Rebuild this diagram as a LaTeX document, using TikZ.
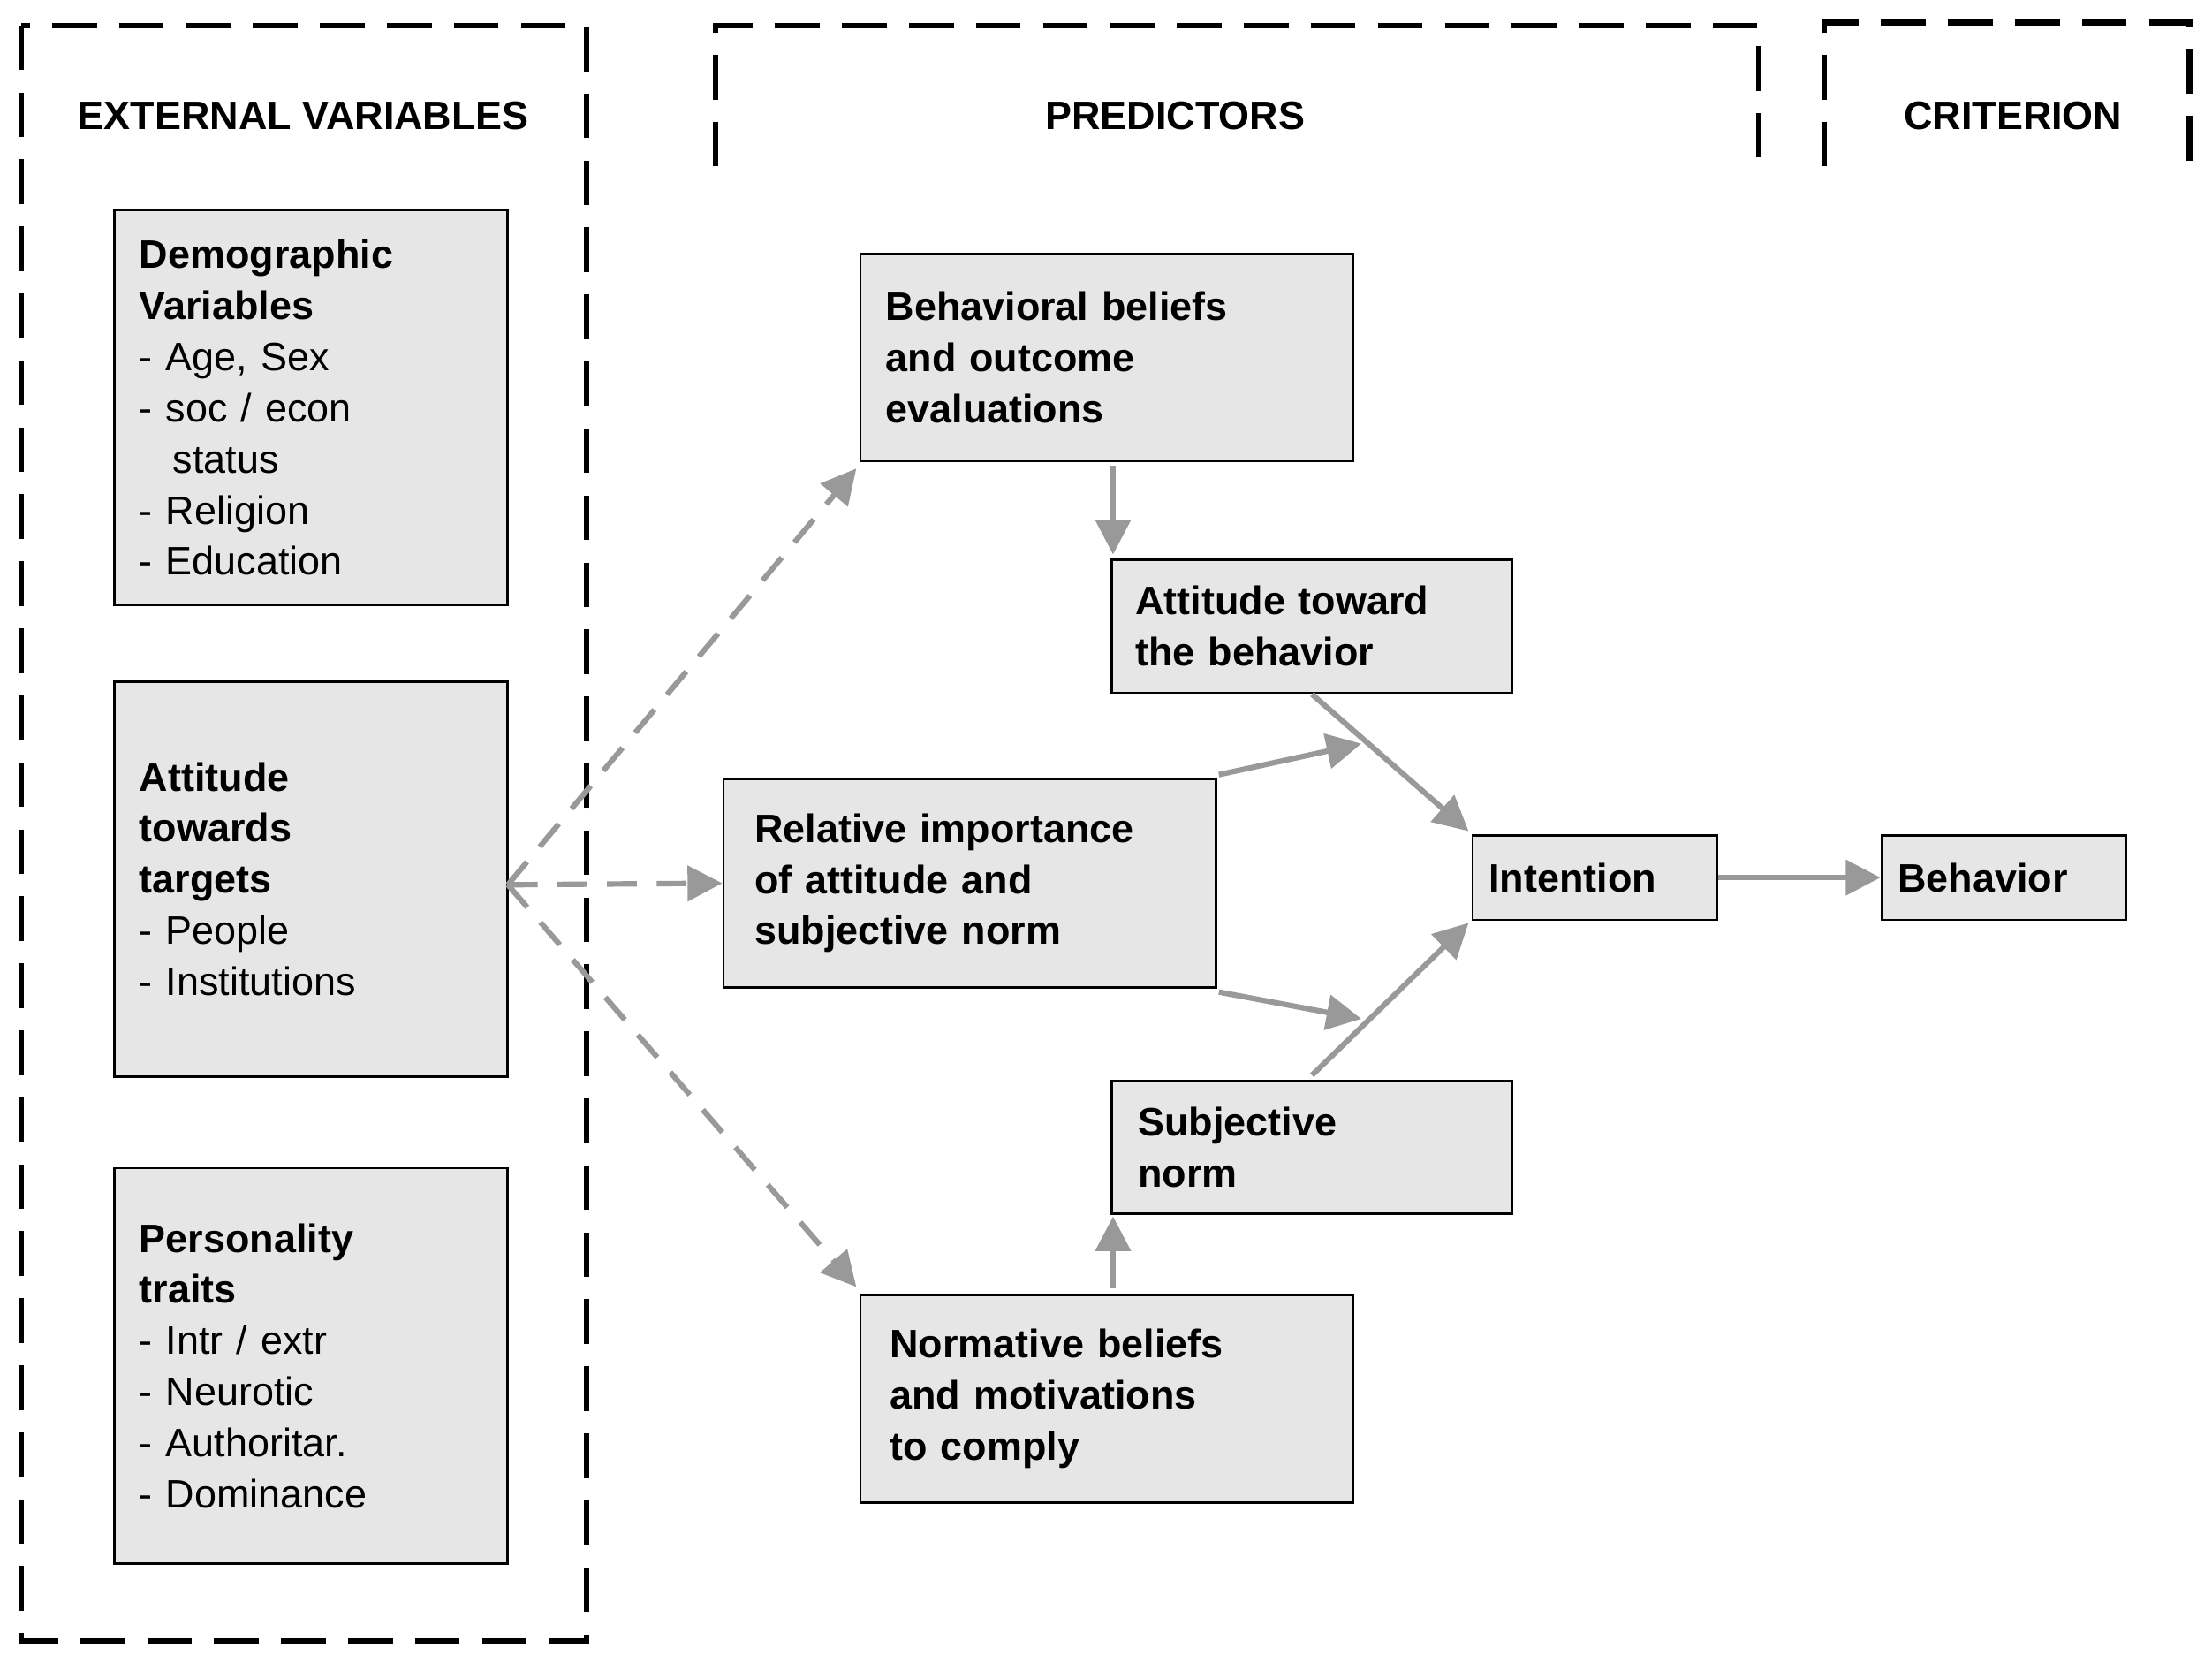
\documentclass[tikz,border=0pt]{standalone}
\usepackage{fontspec}
\setmainfont{Liberation Sans}
\usetikzlibrary{arrows.meta}
\definecolor{boxgray}{HTML}{E6E6E6}
\definecolor{arrgray}{HTML}{999999}
\begin{document}
\begin{tikzpicture}[x=0.01cm,y=-0.01cm,
    font=\fontsize{8}{10.3}\selectfont,
    box/.style={draw, fill=boxgray, line width=0.5pt, rectangle, align=left, anchor=north west, inner sep=0pt},
    frame/.style={line width=1.1pt, dash pattern=on 9pt off 4.5pt},
    head/.style={font=\fontsize{8}{10.3}\selectfont\bfseries},
    flow/.style={arrgray, line width=1.1pt, -{Triangle[length=7pt,width=7pt]}},
    guess/.style={flow, dash pattern=on 6pt off 4pt}]
    \useasboundingbox (0,0) rectangle (1568,1178);
    % frames
    \draw[frame] (15,18) rectangle (416,1163);
    \draw[frame] (507,118) -- (507,18) -- (1247,18) -- (1247,118);
    \draw[frame] (1293,118) -- (1293,16) -- (1552,16) -- (1552,118);
    \node[head] (hext) at (215,82) {EXTERNAL VARIABLES};
    \node[head] (hpred) at (833,82) {PREDICTORS};
    \node[head] (hcrit) at (1427,82) {CRITERION};
    % external variables
    \node[box, minimum width=279*0.01cm, minimum height=280*0.01cm, text width=243*0.01cm] (demo) at (80,148)
        {\textbf{Demographic}\\\textbf{Variables}\\- Age, Sex\\- soc / econ\\\hspace*{1.6ex}status\\- Religion\\- Education};
    \node[box, minimum width=279*0.01cm, minimum height=280*0.01cm, text width=243*0.01cm] (targ) at (80,482)
        {\textbf{Attitude}\\\textbf{towards}\\\textbf{targets}\\- People\\- Institutions};
    \node[box, minimum width=279*0.01cm, minimum height=280*0.01cm, text width=243*0.01cm] (pers) at (80,827)
        {\textbf{Personality}\\\textbf{traits}\\- Intr / extr\\- Neurotic\\- Authoritar.\\- Dominance};
    % predictors
    \node[box, font=\fontsize{8}{10.3}\selectfont\bfseries, minimum width=349*0.01cm, minimum height=147*0.01cm, text width=313*0.01cm] (behb) at (609,179)
        {Behavioral beliefs\\and outcome\\evaluations};
    \node[box, font=\fontsize{8}{10.3}\selectfont\bfseries, minimum width=284*0.01cm, minimum height=94*0.01cm, text width=250*0.01cm] (att) at (787,396)
        {Attitude toward\\the behavior};
    \node[box, font=\fontsize{8}{10.3}\selectfont\bfseries, minimum width=349*0.01cm, minimum height=148*0.01cm, text width=305*0.01cm] (rel) at (512,551)
        {Relative importance\\of attitude and\\subjective norm};
    \node[box, font=\fontsize{8}{10.3}\selectfont\bfseries, minimum width=284*0.01cm, minimum height=94*0.01cm, text width=246*0.01cm] (subj) at (787,765)
        {Subjective\\norm};
    \node[box, font=\fontsize{8}{10.3}\selectfont\bfseries, minimum width=349*0.01cm, minimum height=147*0.01cm, text width=307*0.01cm] (normb) at (609,917)
        {Normative beliefs\\and motivations\\to comply};
    \node[box, font=\fontsize{8}{10.3}\selectfont\bfseries, minimum width=173*0.01cm, minimum height=60*0.01cm, text width=150*0.01cm] (int) at (1043,591)
        {Intention};
    % criterion
    \node[box, font=\fontsize{8}{10.3}\selectfont\bfseries, minimum width=173*0.01cm, minimum height=60*0.01cm, text width=150*0.01cm] (beh) at (1333,591)
        {Behavior};
    % connectors
    \coordinate (src) at (360,627);
    \coordinate (jup) at (965,527);
    \coordinate (jlo) at (965,722);
    \draw[guess] (src) -- (607,332);
    \draw[guess] (src) -- (rel.west);
    \draw[guess] (src) -- (607,912);
    \draw[flow] (789,330) -- (789,393);
    \draw[flow] (789,913) -- (789,862);
    \draw[flow] (864,549) -- (jup);
    \draw[flow] (864,703) -- (jlo);
    \draw[flow] (930,492) -- (1041,589);
    \draw[flow] (930,762) -- (1041,654);
    \draw[flow] (int.east) -- (beh.west);
\end{tikzpicture}
\end{document}
